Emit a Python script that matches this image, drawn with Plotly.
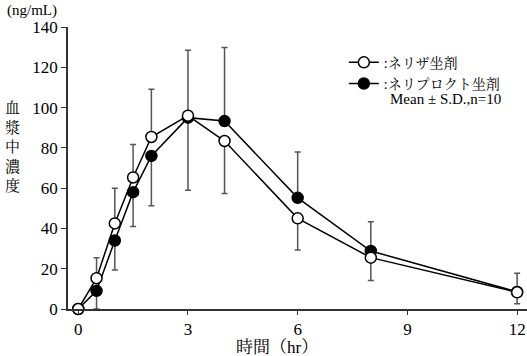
import plotly.graph_objects as go

time_hr = [0, 0.5, 1, 1.5, 2, 3, 4, 6, 8, 12]
neriza_mean = [0, 15.3, 42.5, 65.3, 85.4, 96.0, 83.4, 45.0, 25.5, 8.3]
neriza_sd = [0, 10.2, 17.5, 16.4, 23.7, 32.4, 26.0, 15.7, 11.4, 5.7]
neriproct_mean = [0, 9.0, 34.0, 58.0, 76.0, 95.0, 93.3, 55.2, 28.8, 8.5]
neriproct_sd = [0, 9.0, 14.6, 17.1, 24.8, 36.0, 36.5, 22.8, 14.5, 9.3]
x_ticks = [0, 3, 6, 9, 12]
y_ticks = [0, 20, 40, 60, 80, 100, 120, 140]

SERIF = "Times New Roman, Liberation Serif, Noto Serif CJK JP, Noto Sans CJK JP, serif"

# error bars point away from the other series (higher mean: upward, lower: downward)
def split_sd(mean, sd, other, win_ties):
    plus, minus = [], []
    for m, s, o in zip(mean, sd, other):
        up = m > o or (m == o and win_ties)
        plus.append(s if up else 0)
        minus.append(0 if up else s)
    return plus, minus

np_plus, np_minus = split_sd(neriproct_mean, neriproct_sd, neriza_mean, False)
nz_plus, nz_minus = split_sd(neriza_mean, neriza_sd, neriproct_mean, True)

fig = go.Figure()
fig.add_trace(go.Scatter(
    x=time_hr, y=neriproct_mean, mode="lines+markers", name=":ネリプロクト坐剤",
    line=dict(color="black", width=1.5),
    marker=dict(symbol="circle", size=11, color="black", line=dict(color="black", width=1.5)),
    error_y=dict(type="data", symmetric=False, array=np_plus, arrayminus=np_minus,
                 color="#555555", thickness=1.5, width=3),
    cliponaxis=False,
))
fig.add_trace(go.Scatter(
    x=time_hr, y=neriza_mean, mode="lines+markers", name=":ネリザ坐剤",
    line=dict(color="black", width=1.5),
    marker=dict(symbol="circle", size=11, color="white", line=dict(color="black", width=1.5)),
    error_y=dict(type="data", symmetric=False, array=nz_plus, arrayminus=nz_minus,
                 color="#555555", thickness=1.5, width=3),
    cliponaxis=False,
))

fig.update_layout(
    width=527, height=356,
    margin=dict(l=68, r=0, t=27, b=47),
    paper_bgcolor="white", plot_bgcolor="white",
    font=dict(family=SERIF, size=16, color="black"),
    showlegend=True,
    legend=dict(x=0.601, y=0.93, xanchor="left", yanchor="top", traceorder="reversed",
                font=dict(family=SERIF, size=14, color="black"),
                itemwidth=30, tracegroupgap=0, bgcolor="rgba(0,0,0,0)"),
    xaxis=dict(range=[-0.28, 12.27], tickvals=x_ticks, ticktext=[str(v) for v in x_ticks],
               showline=True, linecolor="#333333", linewidth=1.5, ticks="outside",
               ticklen=4, tickcolor="#333333", showgrid=False, zeroline=False,
               tickfont=dict(size=17)),
    yaxis=dict(range=[0, 140], tickvals=y_ticks, showline=True, linecolor="#333333",
               linewidth=1.5, ticks="outside", ticklen=5, tickcolor="#333333",
               showgrid=False, zeroline=False, tickfont=dict(size=17)),
)

fig.add_annotation(text="(ng/mL)", xref="paper", yref="paper", x=-0.138, y=1.0,
                   yshift=17, xanchor="left", yanchor="middle", showarrow=False,
                   font=dict(size=15))
fig.add_annotation(text="血<br>漿<br>中<br>濃<br>度", xref="paper", yref="paper",
                   x=-0.122, y=0.575, xanchor="center", yanchor="middle", showarrow=False,
                   font=dict(size=15))
fig.add_annotation(text="時間（hr）", xref="paper", yref="paper", x=0.455, y=0,
                   yshift=-38, xanchor="center", yanchor="middle", showarrow=False,
                   font=dict(size=17))
fig.add_annotation(text="Mean ± S.D.,n=10", xref="paper", yref="paper", x=0.697, y=0.745,
                   xanchor="left", yanchor="middle", showarrow=False, font=dict(size=15))

fig.write_html("out.html", config={"displayModeBar": False},
               post_script="document.body.style.margin='0';document.body.style.overflow='hidden';")
